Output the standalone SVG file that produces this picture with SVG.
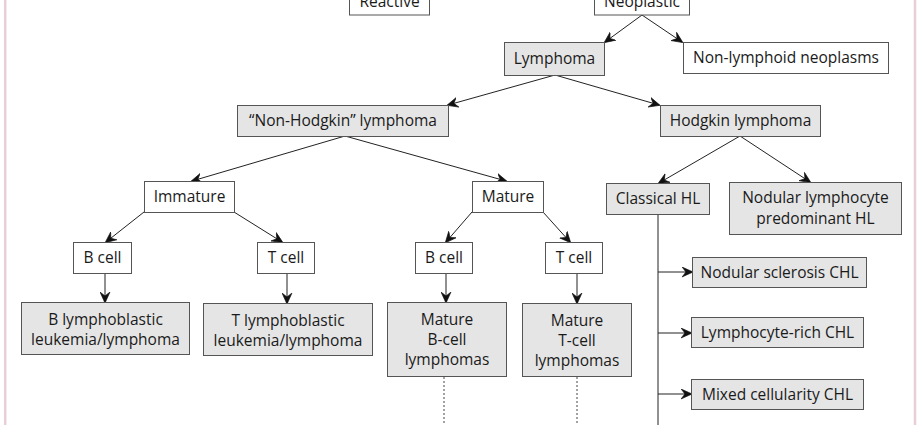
<svg xmlns="http://www.w3.org/2000/svg" width="920" height="425" viewBox="0 0 920 425">
<defs>
<marker id="ah" viewBox="0 0 10 10" refX="9" refY="5" markerWidth="11" markerHeight="11" markerUnits="userSpaceOnUse" orient="auto">
<path d="M0,0.5 L10,5 L0,9.5 L3.5,5 z" fill="#111" stroke="#111" stroke-width="0.6" stroke-linejoin="round"/>
</marker>
<style>
.b{fill:#fff;stroke:#555;stroke-width:1}
.g{fill:#e5e5e5;stroke:#555;stroke-width:1}
text{font-family:"Open Sans","Liberation Sans",sans-serif;font-size:15.5px;fill:#1a1a1a;text-anchor:middle}
.c{stroke:#222;stroke-width:1;fill:none}
.a{marker-end:url(#ah)}
.d{stroke:#444;stroke-width:1;stroke-dasharray:2,2;fill:none}
</style>
</defs>
<rect width="920" height="425" fill="#fff"/>
<line x1="5.2" y1="0" x2="5.2" y2="425" stroke="#e9cdd7" stroke-width="2.5"/>
<line x1="915" y1="0" x2="915" y2="425" stroke="#e9cdd7" stroke-width="2.5"/>
<g id="connectors">
<line class="c a" x1="642" y1="15" x2="605" y2="42"/>
<line class="c a" x1="642" y1="15" x2="682" y2="42"/>
<line class="c a" x1="555" y1="75" x2="448" y2="105"/>
<line class="c a" x1="555" y1="75" x2="659" y2="105"/>
<line class="c a" x1="345" y1="136" x2="192" y2="181"/>
<line class="c a" x1="345" y1="136" x2="506" y2="181"/>
<line class="c a" x1="740" y1="136" x2="659" y2="183"/>
<line class="c a" x1="740" y1="136" x2="810" y2="182"/>
<line class="c a" x1="144" y1="212" x2="106" y2="242"/>
<line class="c a" x1="234" y1="212" x2="282" y2="242"/>
<line class="c a" x1="472" y1="212" x2="446" y2="242"/>
<line class="c a" x1="543" y1="212" x2="570" y2="242"/>
<line class="c a" x1="105" y1="273" x2="105" y2="302"/>
<line class="c a" x1="287" y1="273" x2="287" y2="303"/>
<line class="c a" x1="446" y1="273" x2="446" y2="302"/>
<line class="c a" x1="577" y1="273" x2="577" y2="303"/>
<line class="d" x1="444" y1="377" x2="444" y2="425"/>
<line class="d" x1="577" y1="377" x2="577" y2="425"/>
<line class="c" x1="658" y1="214" x2="658" y2="425"/>
<line class="c a" x1="658" y1="272" x2="692" y2="272"/>
<line class="c a" x1="658" y1="333" x2="691" y2="333"/>
<line class="c a" x1="658" y1="394" x2="691" y2="394"/>
</g>
<g id="reactive"><rect class="b" x="349.5" y="-17" width="80" height="32"/><text x="389.5" y="7">Reactive</text></g>
<g id="neoplastic"><rect class="b" x="594.5" y="-17" width="95" height="32"/><text x="642" y="7">Neoplastic</text></g>
<g id="lymphoma"><rect class="g" x="504.5" y="42.5" width="100" height="33"/><text x="554.5" y="64">Lymphoma</text></g>
<g id="nonlymphoid"><rect class="b" x="683.5" y="42.5" width="205" height="31"/><text x="786" y="63">Non-lymphoid neoplasms</text></g>
<g id="nhl"><rect class="g" x="237.5" y="105.5" width="211" height="31"/><text x="343" y="126">“Non-Hodgkin” lymphoma</text></g>
<g id="hl"><rect class="g" x="660.5" y="105.5" width="160" height="31"/><text x="740.5" y="126">Hodgkin lymphoma</text></g>
<g id="immature"><rect class="b" x="144.5" y="181.5" width="90" height="31"/><text x="189.5" y="202">Immature</text></g>
<g id="mature"><rect class="b" x="472.5" y="181.5" width="71" height="31"/><text x="508" y="202">Mature</text></g>
<g id="classical"><rect class="g" x="606.5" y="183.5" width="103" height="31"/><text x="658" y="204">Classical HL</text></g>
<g id="nlphl"><rect class="g" x="729.5" y="182.5" width="172" height="52"/><text x="815.5" y="203">Nodular lymphocyte</text><text x="815.5" y="224">predominant HL</text></g>
<g id="bcell1"><rect class="b" x="73.5" y="242.5" width="58" height="31"/><text x="102.5" y="263">B cell</text></g>
<g id="tcell1"><rect class="b" x="257.5" y="242.5" width="57" height="31"/><text x="286" y="263">T cell</text></g>
<g id="bcell2"><rect class="b" x="415.5" y="242.5" width="57" height="31"/><text x="444" y="263">B cell</text></g>
<g id="tcell2"><rect class="b" x="545.5" y="242.5" width="57" height="31"/><text x="574" y="263">T cell</text></g>
<g id="nschl"><rect class="g" x="692.5" y="257.5" width="174" height="30"/><text x="779.5" y="278">Nodular sclerosis CHL</text></g>
<g id="bll"><rect class="g" x="21.5" y="302.5" width="168" height="52"/><text x="105.5" y="325">B lymphoblastic</text><text x="105.5" y="345">leukemia/lymphoma</text></g>
<g id="tll"><rect class="g" x="203.5" y="303.5" width="169" height="52"/><text x="288" y="326">T lymphoblastic</text><text x="288" y="346">leukemia/lymphoma</text></g>
<g id="matureb"><rect class="g" x="387.5" y="302.5" width="119" height="74"/><text x="447" y="325">Mature</text><text x="447" y="345">B-cell</text><text x="447" y="365">lymphomas</text></g>
<g id="maturet"><rect class="g" x="522.5" y="303.5" width="109" height="73"/><text x="577" y="326">Mature</text><text x="577" y="346">T-cell</text><text x="577" y="366">lymphomas</text></g>
<g id="lrchl"><rect class="g" x="691.5" y="317.5" width="172" height="30"/><text x="777.5" y="338">Lymphocyte-rich CHL</text></g>
<g id="mcchl"><rect class="g" x="691.5" y="379.5" width="172" height="30"/><text x="777.5" y="400">Mixed cellularity CHL</text></g>
</svg>
